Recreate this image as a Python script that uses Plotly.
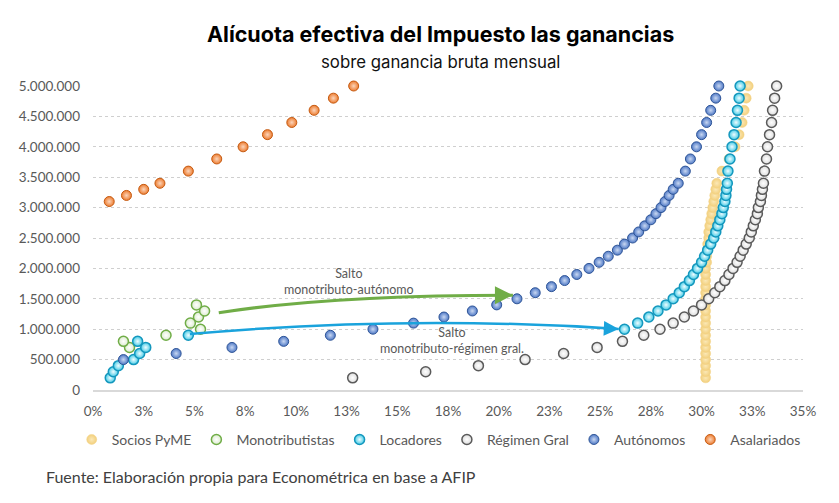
import plotly.graph_objects as go

# ---------------- data ----------------
x_tick_vals = [0, 2.5, 5, 7.5, 10, 12.5, 15, 17.5, 20, 22.5, 25, 27.5, 30, 32.5, 35]
x_tick_text = ["0%", "3%", "5%", "8%", "10%", "13%", "15%", "18%", "20%", "23%", "25%", "28%", "30%", "33%", "35%"]
y_tick_vals = [0, 500000, 1000000, 1500000, 2000000, 2500000, 3000000, 3500000, 4000000, 4500000, 5000000]
y_tick_text = ["0", "500.000", "1.000.000", "1.500.000", "2.000.000", "2.500.000", "3.000.000",
               "3.500.000", "4.000.000", "4.500.000", "5.000.000"]

socios_y = [200000, 300000, 400000, 500000, 600000, 700000, 800000, 900000, 1000000, 1100000,
            1200000, 1300000, 1400000, 1500000, 1600000, 1700000, 1800000, 1900000, 2000000, 2100000,
            2200000, 2300000, 2400000, 2500000, 2600000, 2700000, 2800000, 2900000, 3000000, 3100000,
            3200000, 3300000, 3400000, 3600000, 3800000, 4000000, 4200000, 4400000, 4600000, 4800000, 5000000]
socios_x = [30.2, 30.2, 30.2, 30.2, 30.2, 30.2, 30.2, 30.2, 30.2, 30.2,
            30.2, 30.2, 30.2, 30.2, 30.2, 30.2, 30.2, 30.2, 30.2, 30.25,
            30.25, 30.3, 30.3, 30.35, 30.35, 30.4, 30.45, 30.5, 30.55, 30.6,
            30.65, 30.7, 30.75, 31.0, 31.35, 31.65, 31.85, 32.0, 32.1, 32.2, 32.3]

mono_y = [700000, 800000, 900000, 1000000, 1100000, 1200000, 1300000, 1400000]
mono_x = [1.8, 1.5, 3.6, 5.3, 4.8, 5.2, 5.5, 5.1]

loc_y = [200000, 300000, 400000, 500000, 600000, 700000, 800000, 900000, 1000000, 1100000,
         1200000, 1300000, 1400000, 1500000, 1600000, 1700000, 1800000, 1900000, 2000000, 2100000,
         2200000, 2300000, 2400000, 2500000, 2600000, 2700000, 2800000, 2900000, 3000000, 3100000,
         3200000, 3300000, 3400000, 3600000, 3800000, 4000000, 4200000, 4400000, 4600000, 4800000, 5000000]
loc_x = [0.85, 1.0, 1.25, 2.0, 2.3, 2.6, 2.2, 4.7, 26.2, 26.85,
         27.4, 27.85, 28.25, 28.6, 28.9, 29.15, 29.4, 29.6, 29.8, 30.0,
         30.15, 30.3, 30.45, 30.6, 30.7, 30.8, 30.9, 31.0, 31.07, 31.15,
         31.2, 31.23, 31.27, 31.3, 31.4, 31.5, 31.6, 31.7, 31.77, 31.85, 31.9]

rg_y = [200000, 300000, 400000, 500000, 600000, 700000, 800000, 900000, 1000000, 1100000,
        1200000, 1300000, 1400000, 1500000, 1600000, 1700000, 1800000, 1900000, 2000000, 2100000,
        2200000, 2300000, 2400000, 2500000, 2600000, 2700000, 2800000, 2900000, 3000000, 3100000,
        3200000, 3300000, 3400000, 3600000, 3800000, 4000000, 4200000, 4400000, 4600000, 4800000, 5000000]
rg_x = [12.8, 16.4, 19.0, 21.3, 23.2, 24.85, 26.1, 27.15, 27.95, 28.6,
        29.15, 29.6, 30.0, 30.35, 30.65, 30.9, 31.15, 31.35, 31.55, 31.75,
        31.9, 32.05, 32.2, 32.35, 32.45, 32.55, 32.65, 32.75, 32.8, 32.9,
        32.95, 33.0, 33.05, 33.1, 33.2, 33.25, 33.35, 33.45, 33.5, 33.6, 33.7]

aut_y = [500000, 600000, 700000, 800000, 900000, 1000000, 1100000, 1200000, 1300000, 1400000,
         1500000, 1600000, 1700000, 1800000, 1900000, 2000000, 2100000, 2200000, 2300000, 2400000,
         2500000, 2600000, 2700000, 2800000, 2900000, 3000000, 3100000, 3200000, 3300000, 3400000,
         3600000, 3800000, 4000000, 4200000, 4400000, 4600000, 4800000, 5000000]
aut_x = [1.5, 4.1, 6.85, 9.4, 11.7, 13.8, 15.8, 17.3, 18.7, 19.9,
         20.9, 21.8, 22.6, 23.25, 23.85, 24.45, 24.95, 25.4, 25.85, 26.2,
         26.6, 26.9, 27.2, 27.5, 27.75, 28.0, 28.2, 28.4, 28.6, 28.85,
         29.2, 29.45, 29.75, 30.0, 30.25, 30.45, 30.7, 30.85]

asal_y = [3100000, 3200000, 3300000, 3400000, 3600000, 3800000, 4000000, 4200000, 4400000,
          4600000, 4800000, 5000000]
asal_x = [0.8, 1.65, 2.5, 3.3, 4.7, 6.1, 7.4, 8.6, 9.8, 10.9, 11.85, 12.85]

# arrows: (start, control, end) and arrow-head tail, in data units
green_arrow = [(6.2, 1270000), (11.7, 1560000), (20.7, 1560000)]
green_tail = (20.2, 1560000)
blue_arrow = [(4.78, 920000), (15.4, 1240000), (25.92, 1003000)]
blue_tail = (25.43, 1010000)

label_auto = (12.6, 1790000)
label_rg = (17.7, 820000)

# ---------------- figure ----------------
TXT = "#595959"
FONT = "Lato"

fig = go.Figure()


def add_series(name, xs, ys, color, center, line_color, line_w):
    fig.add_trace(go.Scatter(
        x=xs, y=ys, mode="markers", name=name, cliponaxis=False,
        marker=dict(size=10, color=color,
                    gradient=dict(type="radial", color=center),
                    line=dict(color=line_color, width=line_w)),
        hoverinfo="x+y"))


add_series("Socios PyME", socios_x, socios_y, "#f2cf7c", "#fbe8b6", "#f3d386", 0.5)
add_series("Monotributistas", mono_x, mono_y, "#dcebcf", "#ffffff", "#70ad47", 1.5)
add_series("Locadores", loc_x, loc_y, "#45cbe6", "#effcff", "#1497bd", 1.5)
add_series("Régimen Gral", rg_x, rg_y, "#dddddd", "#ffffff", "#5a5a5a", 1.5)
add_series("Autónomos", aut_x, aut_y, "#4f79c6", "#c9d8f2", "#2f5597", 1.0)
add_series("Asalariados", asal_x, asal_y, "#ed7d31", "#fbd5bb", "#c55a11", 1.0)


def qpath(pts):
    (x0, y0), (cx, cy), (x1, y1) = pts
    return f"M {x0},{y0} Q {cx},{cy} {x1},{y1}"


fig.add_shape(type="path", path=qpath(green_arrow), xref="x", yref="y",
              line=dict(color="#70ad47", width=3))
fig.add_shape(type="path", path=qpath(blue_arrow), xref="x", yref="y",
              line=dict(color="#1aa3dc", width=2.5))

fig.add_annotation(x=green_arrow[2][0], y=green_arrow[2][1], ax=green_tail[0], ay=green_tail[1],
                   xref="x", yref="y", axref="x", ayref="y", text="", showarrow=True,
                   arrowhead=2, arrowsize=1.2, arrowwidth=3, arrowcolor="#70ad47")
fig.add_annotation(x=blue_arrow[2][0], y=blue_arrow[2][1], ax=blue_tail[0], ay=blue_tail[1],
                   xref="x", yref="y", axref="x", ayref="y", text="", showarrow=True,
                   arrowhead=2, arrowsize=1.2, arrowwidth=2.5, arrowcolor="#1aa3dc")

fig.add_annotation(x=label_auto[0], y=label_auto[1], xref="x", yref="y",
                   text="Salto<br>monotributo-autónomo", showarrow=False,
                   font=dict(family=FONT, size=12.5, color=TXT), align="center")
fig.add_annotation(x=label_rg[0], y=label_rg[1], xref="x", yref="y",
                   text="Salto<br>monotributo-régimen gral.", showarrow=False,
                   font=dict(family=FONT, size=12.5, color=TXT), align="center")

# title and subtitle
fig.add_annotation(x=0.489, y=1.171, xref="paper", yref="paper", yanchor="middle",
                   text="<b>Alícuota efectiva del Impuesto las ganancias</b>", showarrow=False,
                   font=dict(family="Inter", size=21.5, color="#000000"))
fig.add_annotation(x=0.489, y=1.079, xref="paper", yref="paper", yanchor="middle",
                   text="sobre ganancia bruta mensual", showarrow=False,
                   font=dict(family="Inter", size=16.8, color="#111111"))
# source
fig.add_annotation(x=-0.069, y=-0.286, xref="paper", yref="paper", xanchor="left", yanchor="middle",
                   text="Fuente: Elaboración propia para Econométrica en base a AFIP", showarrow=False,
                   font=dict(family=FONT, size=16, color="#404040"))

# the page body adds an 8px margin, so the figure is sized to fit the remaining window
fig.update_layout(
    width=831, height=495,
    margin=dict(l=85, r=36, t=78, b=113, autoexpand=False),
    paper_bgcolor="white", plot_bgcolor="white",
    font=dict(family=FONT, size=14, color=TXT),
    showlegend=True,
    legend=dict(orientation="h", xref="paper", yref="paper",
                x=-0.03, xanchor="left", y=-0.164, yanchor="middle",
                font=dict(family=FONT, size=14, color=TXT), itemwidth=30,
                bgcolor="rgba(0,0,0,0)"),
    xaxis=dict(range=[0, 35], tickvals=x_tick_vals, ticktext=x_tick_text,
               showgrid=False, zeroline=False, showline=True, linecolor="#d9d9d9", linewidth=1.5,
               ticks="", ticklabelstandoff=8, tickfont=dict(family=FONT, size=13.5, color=TXT)),
    yaxis=dict(range=[0, 5000000], tickvals=y_tick_vals, ticktext=y_tick_text,
               showgrid=True, gridcolor="#cfcfcf", griddash="dot", gridwidth=1,
               zeroline=False, showline=False, ticks="", ticklabelstandoff=12,
               tickfont=dict(family=FONT, size=13.5, color=TXT)),
)

fig.write_html("out.html")
